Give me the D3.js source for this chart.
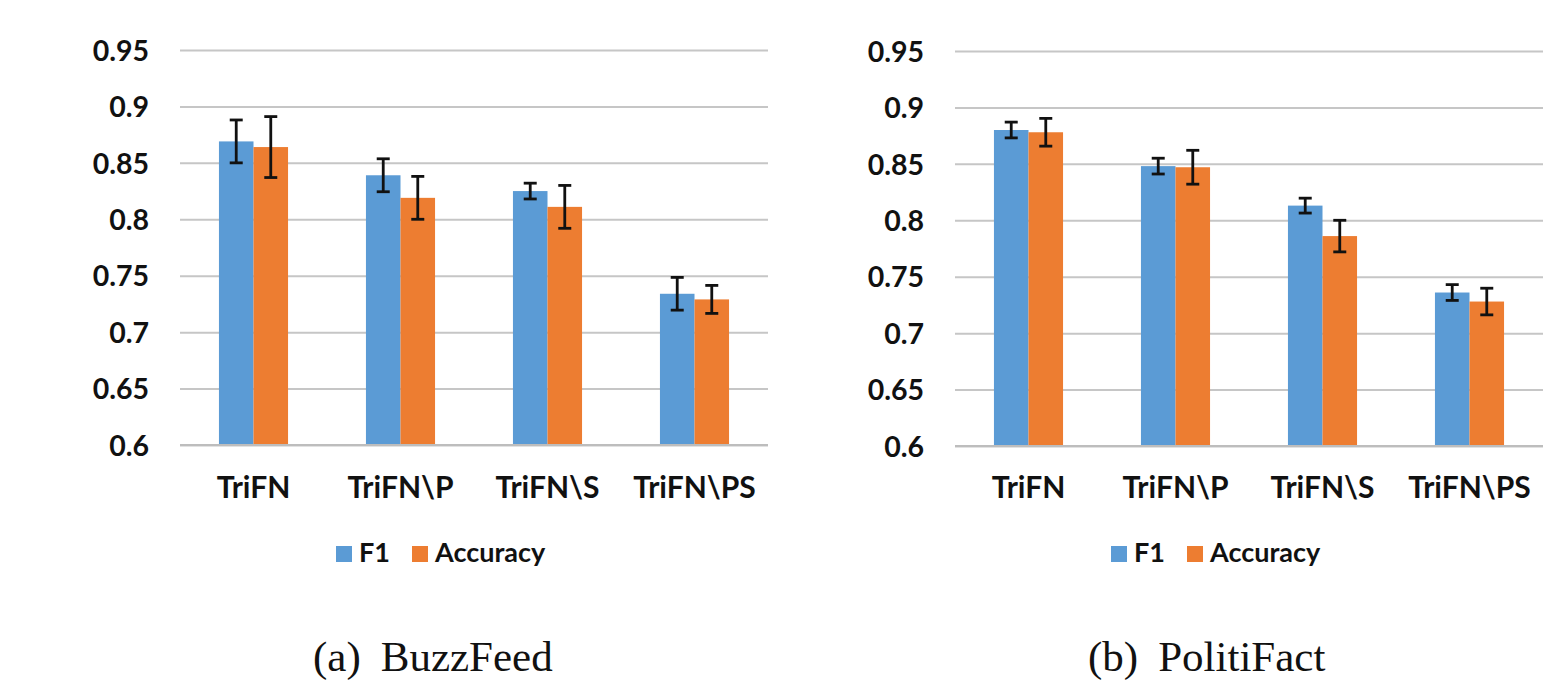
<!DOCTYPE html>
<html>
<head>
	<title>TriFN ablation - BuzzFeed / PolitiFact</title>
	<meta charset="utf-8" />
	<style>
		html, body {
			margin: 0;
			background: #fff;
		}
		#chart {
			width: 1559px;
			height: 682px;
		}
		.tick text, .cat, .leg { font-family: Lato, "Open Sans", sans-serif; font-weight: 700; fill: #111; }
		.cap { font-family: "Liberation Serif", "DejaVu Serif", serif; fill: #111; }
	</style>
</head>
<body>
<div id="chart"></div>
<script src="https://cdn.jsdelivr.net/npm/d3@7/dist/d3.min.js"></script>
<script>
	// values
	var categories = ["TriFN", "TriFN\\P", "TriFN\\S", "TriFN\\PS"];
	var series = ["F1", "Accuracy"];
	var tickValues = [0.6, 0.65, 0.7, 0.75, 0.8, 0.85, 0.9, 0.95];
	var tickLabels = ["0.6", "0.65", "0.7", "0.75", "0.8", "0.85", "0.9", "0.95"];

	var buzzF1 = [0.869, 0.839, 0.825, 0.734];
	var buzzF1Err = [0.019, 0.0146, 0.007, 0.0145];
	var buzzAcc = [0.864, 0.819, 0.811, 0.729];
	var buzzAccErr = [0.027, 0.019, 0.019, 0.0124];

	var politiF1 = [0.880, 0.848, 0.813, 0.736];
	var politiF1Err = [0.007, 0.007, 0.0066, 0.007];
	var politiAcc = [0.878, 0.847, 0.786, 0.728];
	var politiAccErr = [0.0123, 0.015, 0.014, 0.0118];

	var colors = ["#5B9BD5", "#ED7D31"];

	var svg = d3.select("#chart").append("svg")
		.attr("width", 1559)
		.attr("height", 682);

	function panel(left, top, bottom, caption, name, vals, errs) {
		var right = left + 588;
		var x = d3.scaleBand().domain(categories).range([left, right])
			.paddingInner(0.53).paddingOuter(0.265);
		var xs = d3.scaleBand().domain(series).range([0, x.bandwidth()]);
		var y = d3.scaleLinear().domain([0.6, 0.95]).range([bottom, top]);
		var g = svg.append("g");

		// gridlines + labels via axis
		var ax = g.append("g")
			.attr("transform", "translate(" + left + ",0)")
			.call(d3.axisLeft(y).tickValues(tickValues)
				.tickFormat(function(d, i) { return tickLabels[i]; })
				.tickSize(-588).tickPadding(31));
		ax.select(".domain").remove();
		ax.selectAll(".tick line").attr("stroke", "#c6c6c6").attr("stroke-width", 2);
		ax.selectAll(".tick text").attr("font-size", 28.5).attr("dy", "0.36em");

		var rows = [];
		categories.forEach(function(c, i) {
			series.forEach(function(s, j) {
				rows.push({cat: c, s: s, j: j, v: vals[j][i], e: errs[j][i]});
			});
		});

		g.selectAll("rect.bar").data(rows).enter()
			.append("rect")
			.attr("class", "bar")
			.attr("x", function(d) { return x(d.cat) + xs(d.s); })
			.attr("width", xs.bandwidth())
			.attr("y", function(d) { return y(d.v); })
			.attr("height", function(d) { return y(0.6) - y(d.v); })
			.attr("fill", function(d) { return colors[d.j]; });

		// bottom axis line
		g.append("line")
			.attr("x1", left).attr("x2", right)
			.attr("y1", y(0.6)).attr("y2", y(0.6))
			.attr("stroke", "#bdbdbd").attr("stroke-width", 2);

		// error bars
		var eb = g.selectAll("g.err").data(rows).enter().append("g")
			.attr("stroke", "#111").attr("stroke-width", 2.8);
		eb.append("line")
			.attr("x1", function(d) { return x(d.cat) + xs(d.s) + xs.bandwidth() / 2; })
			.attr("x2", function(d) { return x(d.cat) + xs(d.s) + xs.bandwidth() / 2; })
			.attr("y1", function(d) { return y(d.v + d.e); })
			.attr("y2", function(d) { return y(d.v - d.e); });
		[1, -1].forEach(function(sign) {
			eb.append("line")
				.attr("x1", function(d) { return x(d.cat) + xs(d.s) + xs.bandwidth() / 2 - 6.5; })
				.attr("x2", function(d) { return x(d.cat) + xs(d.s) + xs.bandwidth() / 2 + 6.5; })
				.attr("y1", function(d) { return y(d.v + sign * d.e); })
				.attr("y2", function(d) { return y(d.v + sign * d.e); });
		});

		// category labels
		g.selectAll("text.cat").data(categories).enter()
			.append("text")
			.attr("class", "cat")
			.attr("x", function(d) { return x(d) + x.bandwidth() / 2; })
			.attr("y", 498)
			.attr("text-anchor", "middle")
			.attr("font-size", 30)
			.text(function(d) { return d; });

		// legend
		var lx = left + 156;
		var legX = [0, 76];
		series.forEach(function(s, j) {
			g.append("rect")
				.attr("x", lx + legX[j]).attr("y", 546)
				.attr("width", 16).attr("height", 16)
				.attr("fill", colors[j]);
			g.append("text")
				.attr("class", "leg")
				.attr("x", lx + legX[j] + 23).attr("y", 562)
				.attr("font-size", 27)
				.text(s);
		});

		// caption
		var t = g.append("text")
			.attr("class", "cap")
			.attr("x", left + 133).attr("y", 671)
			.attr("font-size", 43);
		t.append("tspan").text(caption);
		t.append("tspan").attr("dx", 20).text(name);
	}

	panel(180, 50, 445, "(a)", "BuzzFeed", [buzzF1, buzzAcc], [buzzF1Err, buzzAccErr]);
	panel(955, 51, 446, "(b)", "PolitiFact", [politiF1, politiAcc], [politiF1Err, politiAccErr]);
</script>
</body>
</html>
